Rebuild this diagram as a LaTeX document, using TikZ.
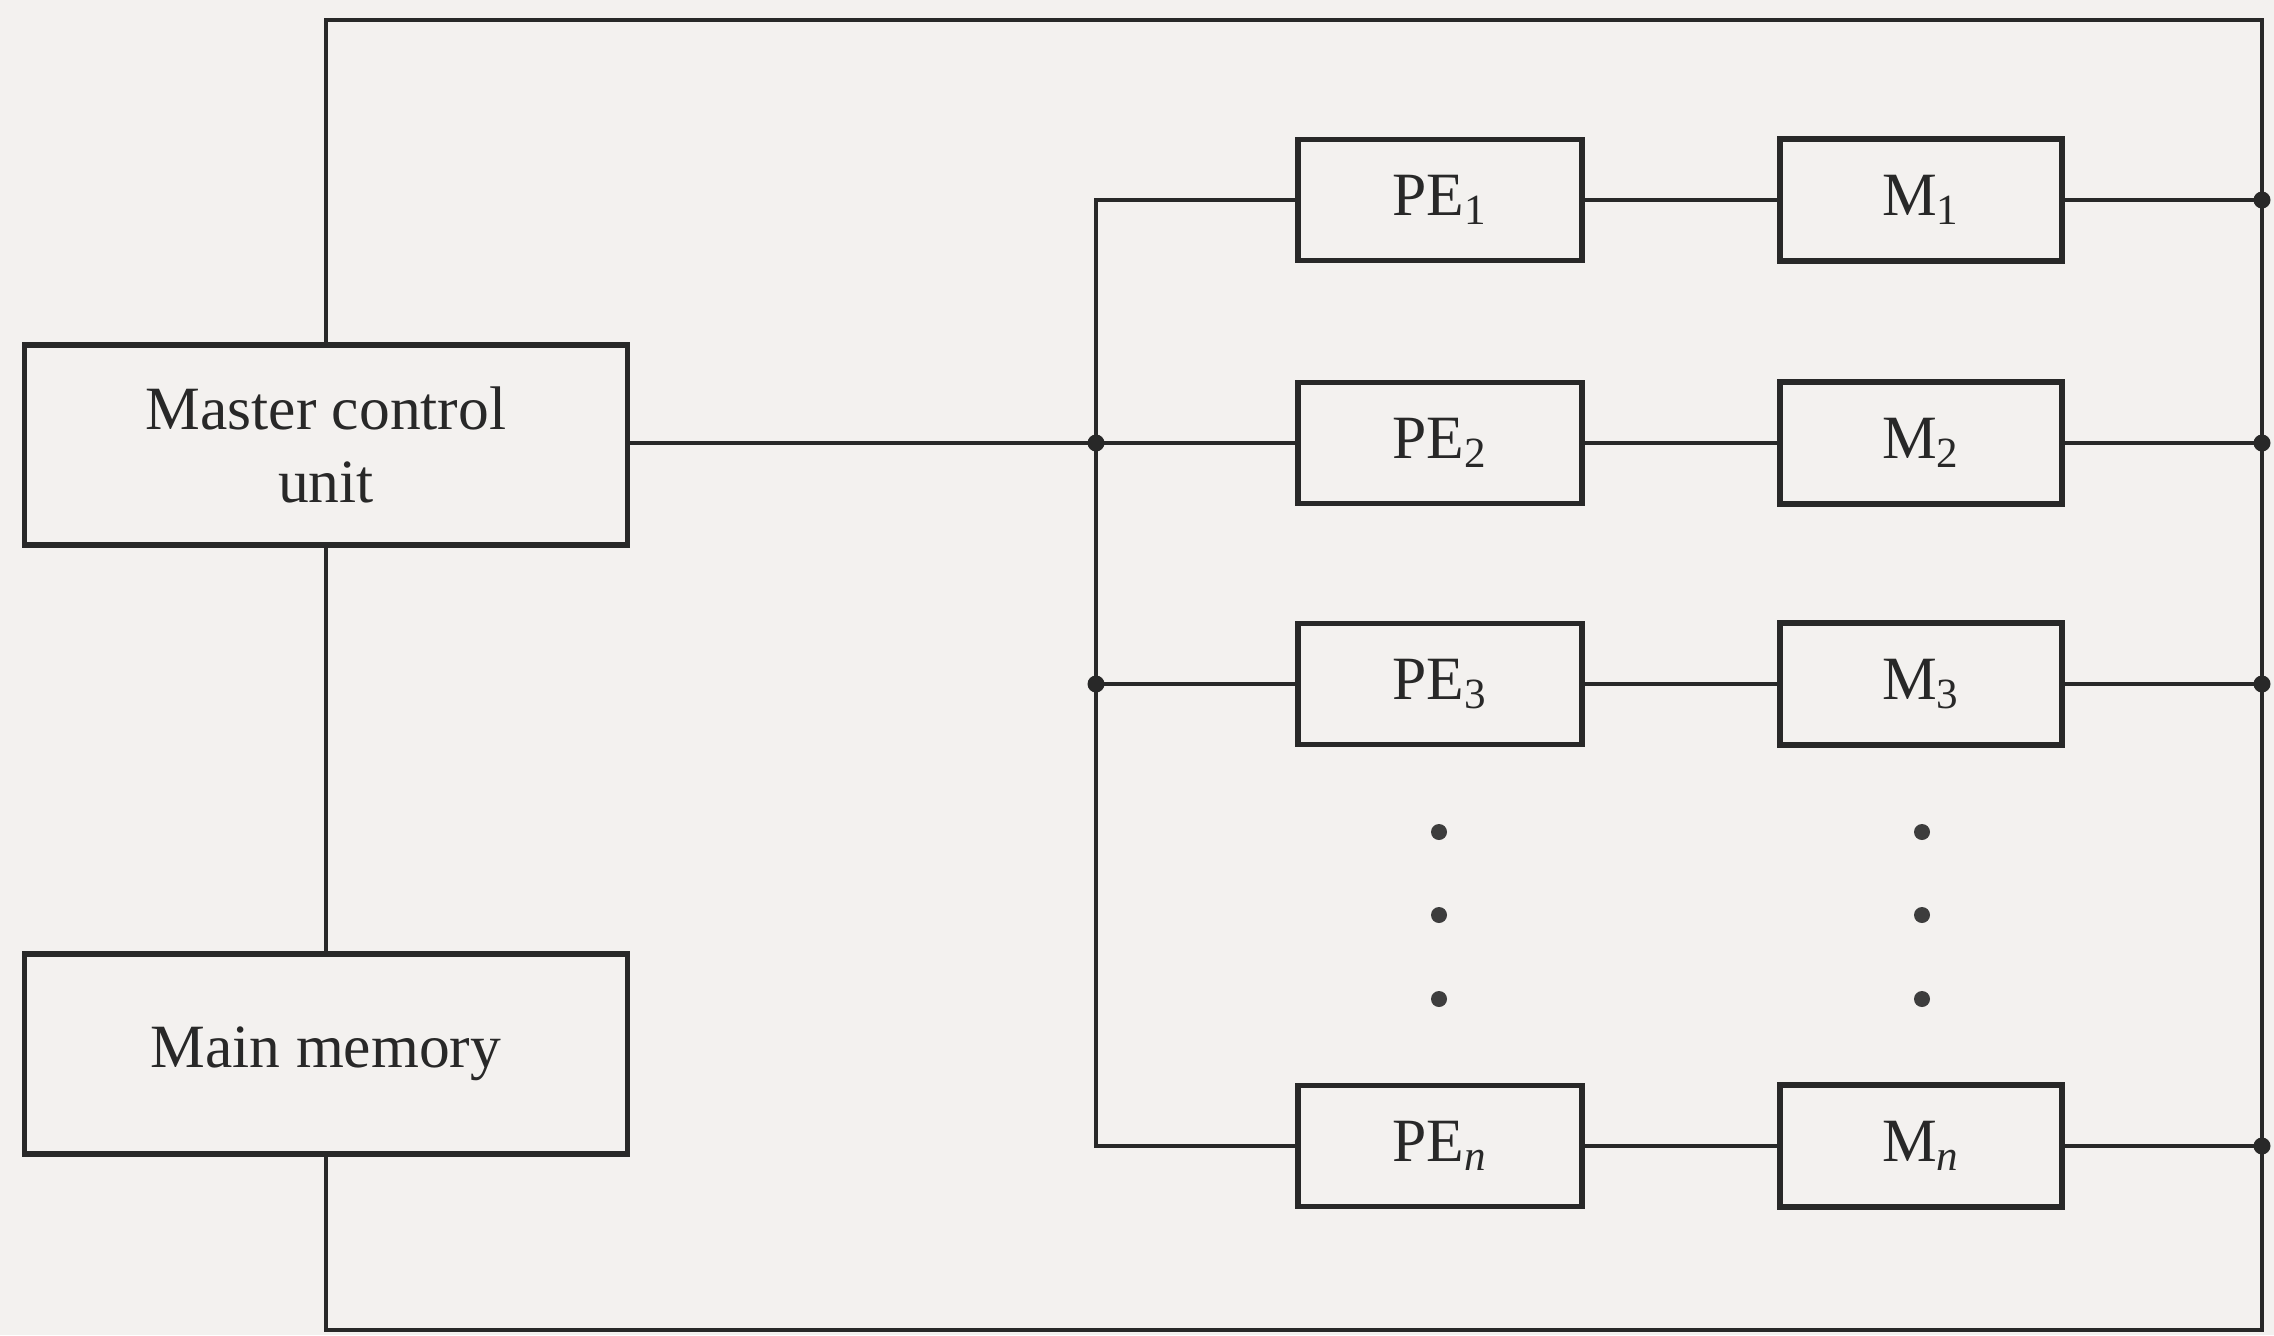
\documentclass[tikz,border=0pt]{standalone}
\usepackage{fontspec}
\setmainfont{Liberation Serif}
\definecolor{paper}{RGB}{243,241,239}
\definecolor{ink}{RGB}{40,40,40}
\begin{document}
\begin{tikzpicture}[x=0.01cm,y=-0.01cm,color=ink,line width=1.3pt,
  blk/.style={draw=ink,line width=1.6pt,rectangle,inner sep=0pt,align=center,
    font=\fontsize{17.5}{21}\selectfont,text=ink},
  bigbox/.style={blk,minimum width=6.03cm,minimum height=2.0cm},
  pebox/.style={blk,minimum width=2.84cm,minimum height=1.21cm},
  mbox/.style={blk,minimum width=2.82cm,minimum height=1.22cm},
  wire/.style={draw=ink,line width=1.3pt},
  junc/.style={circle,fill=ink,draw=none,inner sep=0pt,minimum size=0.17cm},
  vdot/.style={circle,fill=ink!90,draw=none,inner sep=0pt,minimum size=0.16cm}]
\fill[paper,draw=none] (0,0) rectangle (2274,1335);
\useasboundingbox (0,0) rectangle (2274,1335);

\node[bigbox] (mcu) at (326,445) {Master control\\unit};
\node[bigbox] (mm) at (326,1054) {Main memory};

\node[pebox] (pe1) at (1440,200) {PE\textsubscript{1}};
\node[pebox] (pe2) at (1440,443) {PE\textsubscript{2}};
\node[pebox] (pe3) at (1440,684) {PE\textsubscript{3}};
\node[pebox] (pen) at (1440,1146) {PE\textsubscript{\textit{n}}};

\node[mbox] (m1) at (1921,200) {M\textsubscript{1}};
\node[mbox] (m2) at (1921,443) {M\textsubscript{2}};
\node[mbox] (m3) at (1921,684) {M\textsubscript{3}};
\node[mbox] (mn) at (1921,1146) {M\textsubscript{\textit{n}}};

\coordinate (tr) at (2262,20);
\coordinate (br) at (2262,1330);
\node[junc] (b2) at (1096,443) {};
\node[junc] (b3) at (1096,684) {};
\node[junc] (r1) at (2262,200) {};
\node[junc] (r2) at (2262,443) {};
\node[junc] (r3) at (2262,684) {};
\node[junc] (rn) at (2262,1146) {};

% outer loop
\draw[wire] (mcu.north) |- (tr) -- (br) -| (mm.south);
\draw[wire] (mcu.south) -- (mm.north);
% bus
\draw[wire] (mcu.east |- b2) -- (b2.center);
\draw[wire] (pe1.west) -| (b2.center) -- (b3.center) |- (pen.west);
\draw[wire] (b2.center) -- (pe2.west);
\draw[wire] (b3.center) -- (pe3.west);
% PE to M
\draw[wire] (pe1) -- (m1);
\draw[wire] (pe2) -- (m2);
\draw[wire] (pe3) -- (m3);
\draw[wire] (pen) -- (mn);
% M to right line
\draw[wire] (m1.east) -- (r1.center);
\draw[wire] (m2.east) -- (r2.center);
\draw[wire] (m3.east) -- (r3.center);
\draw[wire] (mn.east) -- (rn.center);

% ellipsis dots
\node[vdot] (d1) at (1439,832) {};
\node[vdot] (d2) at (1439,915) {};
\node[vdot] (d3) at (1439,999) {};
\node[vdot] (e1) at (1922,832) {};
\node[vdot] (e2) at (1922,915) {};
\node[vdot] (e3) at (1922,999) {};
\end{tikzpicture}
\end{document}
